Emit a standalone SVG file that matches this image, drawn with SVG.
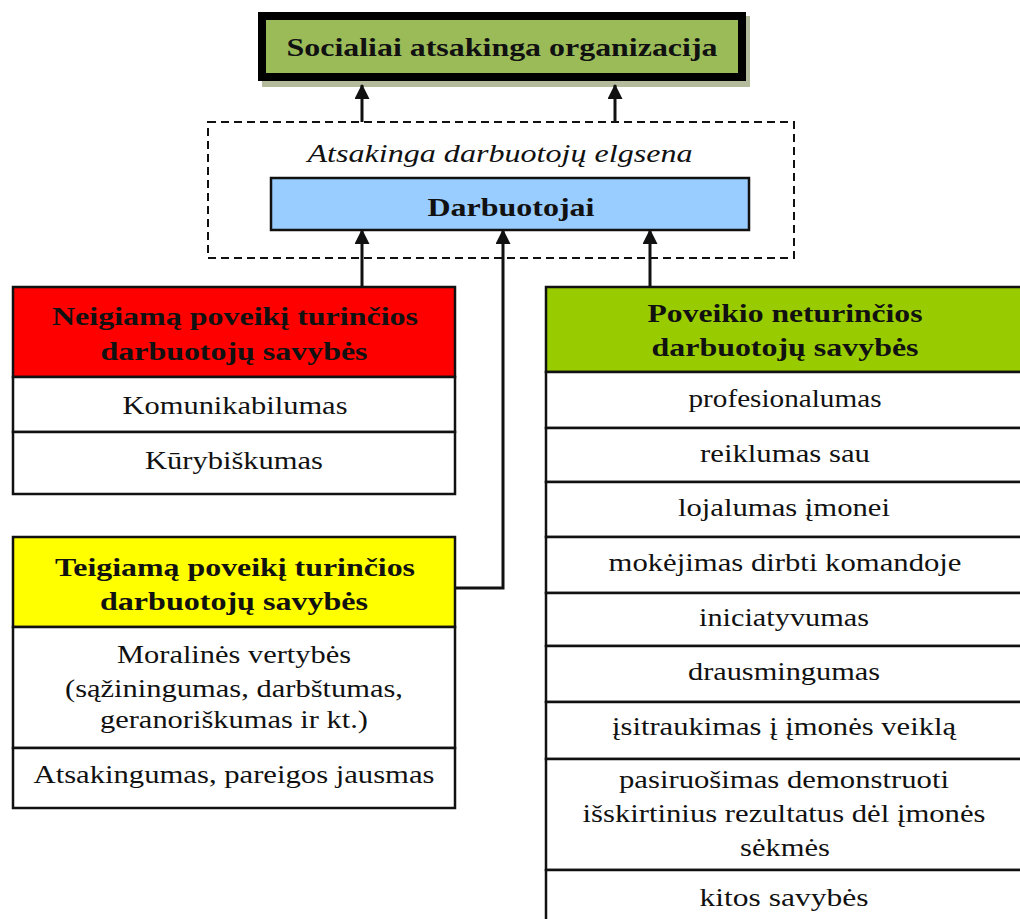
<svg xmlns="http://www.w3.org/2000/svg" width="1020" height="919" viewBox="0 0 1020 919">
  <style>
    text { font-family: "Liberation Serif", "Times New Roman", serif; font-size: 25px; fill: #111; text-anchor: middle; }
    .b { font-weight: bold; font-size: 25px; }
    .i { font-style: italic; font-size: 25px; }
    .cell { fill: #fff; stroke: #111; stroke-width: 2.5; }
    .edge { fill: none; stroke: #111; stroke-width: 3; }
  </style>
  <defs>
    <marker id="arrow" viewBox="0 0 15 15" refX="14" refY="7.5" markerWidth="15" markerHeight="15" markerUnits="userSpaceOnUse" orient="auto">
      <path d="M0,0 L15,7.5 L0,15 Z" fill="#111"/>
    </marker>
  </defs>
  <rect width="1020" height="919" fill="#fff"/>

  <!-- top: socially responsible organisation -->
  <g id="org">
    <rect x="262" y="16" width="488" height="71" fill="#b3bb9c"/>
    <rect x="262" y="16" width="480" height="61" fill="#9bbb59" stroke="#000" stroke-width="8"/>
    <text class="b" x="502" y="56" textLength="431" lengthAdjust="spacingAndGlyphs">Socialiai atsakinga organizacija</text>
  </g>

  <!-- responsible behaviour frame -->
  <g id="behaviour">
    <rect x="208" y="122" width="586" height="136" fill="none" stroke="#111" stroke-width="2" stroke-dasharray="8,5"/>
    <text class="i" x="500" y="162" textLength="385" lengthAdjust="spacingAndGlyphs">Atsakinga darbuotojų elgsena</text>
  </g>

  <g id="employees">
    <rect x="271" y="178" width="478" height="52" fill="#99ccff" stroke="#111" stroke-width="2.5"/>
    <text class="b" x="511" y="216" textLength="167" lengthAdjust="spacingAndGlyphs">Darbuotojai</text>
  </g>

  <!-- negative traits -->
  <g id="negative">
    <rect x="13" y="287" width="442" height="90" fill="#ff0000" stroke="#111" stroke-width="2.5"/>
    <text class="b" x="235" y="325" textLength="366" lengthAdjust="spacingAndGlyphs">Neigiamą poveikį turinčios</text>
    <text class="b" x="234" y="360" textLength="267" lengthAdjust="spacingAndGlyphs">darbuotojų savybės</text>
    <rect class="cell" x="13" y="377" width="442" height="55"/>
    <text x="235" y="414" textLength="225" lengthAdjust="spacingAndGlyphs">Komunikabilumas</text>
    <rect class="cell" x="13" y="432" width="442" height="62"/>
    <text x="234" y="469" textLength="178" lengthAdjust="spacingAndGlyphs">Kūrybiškumas</text>
  </g>

  <!-- positive traits -->
  <g id="positive">
    <rect x="13" y="537" width="442" height="90" fill="#ffff00" stroke="#111" stroke-width="2.5"/>
    <text class="b" x="235" y="576" textLength="360" lengthAdjust="spacingAndGlyphs">Teigiamą poveikį turinčios</text>
    <text class="b" x="234" y="610" textLength="268" lengthAdjust="spacingAndGlyphs">darbuotojų savybės</text>
    <rect class="cell" x="13" y="627" width="442" height="121"/>
    <text x="234" y="663" textLength="234" lengthAdjust="spacingAndGlyphs">Moralinės vertybės</text>
    <text x="234" y="697" textLength="338" lengthAdjust="spacingAndGlyphs">(sąžiningumas, darbštumas,</text>
    <text x="234" y="728" textLength="268" lengthAdjust="spacingAndGlyphs">geranoriškumas ir kt.)</text>
    <rect class="cell" x="13" y="748" width="442" height="60"/>
    <text x="234" y="783" textLength="401" lengthAdjust="spacingAndGlyphs">Atsakingumas, pareigos jausmas</text>
  </g>

  <!-- neutral traits -->
  <g id="neutral">
    <rect x="546" y="287" width="480" height="85" fill="#99cc00" stroke="#111" stroke-width="2.5"/>
    <text class="b" x="785" y="322" textLength="275" lengthAdjust="spacingAndGlyphs">Poveikio neturinčios</text>
    <text class="b" x="785" y="356" textLength="267" lengthAdjust="spacingAndGlyphs">darbuotojų savybės</text>
    <rect class="cell" x="546" y="372" width="480" height="56"/>
    <text x="785" y="407" textLength="193" lengthAdjust="spacingAndGlyphs">profesionalumas</text>
    <rect class="cell" x="546" y="428" width="480" height="54"/>
    <text x="785" y="462" textLength="170" lengthAdjust="spacingAndGlyphs">reiklumas sau</text>
    <rect class="cell" x="546" y="482" width="480" height="55"/>
    <text x="784" y="516" textLength="212" lengthAdjust="spacingAndGlyphs">lojalumas įmonei</text>
    <rect class="cell" x="546" y="537" width="480" height="56"/>
    <text x="785" y="571" textLength="353" lengthAdjust="spacingAndGlyphs">mokėjimas dirbti komandoje</text>
    <rect class="cell" x="546" y="593" width="480" height="53"/>
    <text x="784" y="626" textLength="170" lengthAdjust="spacingAndGlyphs">iniciatyvumas</text>
    <rect class="cell" x="546" y="646" width="480" height="56"/>
    <text x="784" y="680" textLength="192" lengthAdjust="spacingAndGlyphs">drausmingumas</text>
    <rect class="cell" x="546" y="702" width="480" height="57"/>
    <text x="784" y="735" textLength="344" lengthAdjust="spacingAndGlyphs">įsitraukimas į įmonės veiklą</text>
    <rect class="cell" x="546" y="759" width="480" height="111"/>
    <text x="784" y="788" textLength="330" lengthAdjust="spacingAndGlyphs">pasiruošimas demonstruoti</text>
    <text x="784" y="822" textLength="403" lengthAdjust="spacingAndGlyphs">išskirtinius rezultatus dėl įmonės</text>
    <text x="785" y="856" textLength="90" lengthAdjust="spacingAndGlyphs">sėkmės</text>
    <rect class="cell" x="546" y="870" width="480" height="60"/>
    <text x="784" y="906" textLength="169" lengthAdjust="spacingAndGlyphs">kitos savybės</text>
  </g>

  <!-- connectors -->
  <g id="connectors">
    <line class="edge" x1="362" y1="122" x2="362" y2="85" marker-end="url(#arrow)"/>
    <line class="edge" x1="615" y1="122" x2="615" y2="85" marker-end="url(#arrow)"/>
    <line class="edge" x1="362" y1="287" x2="362" y2="230" marker-end="url(#arrow)"/>
    <polyline class="edge" points="455,588 503,588 503,230" marker-end="url(#arrow)"/>
    <line class="edge" x1="650" y1="287" x2="650" y2="230" marker-end="url(#arrow)"/>
  </g>
</svg>
